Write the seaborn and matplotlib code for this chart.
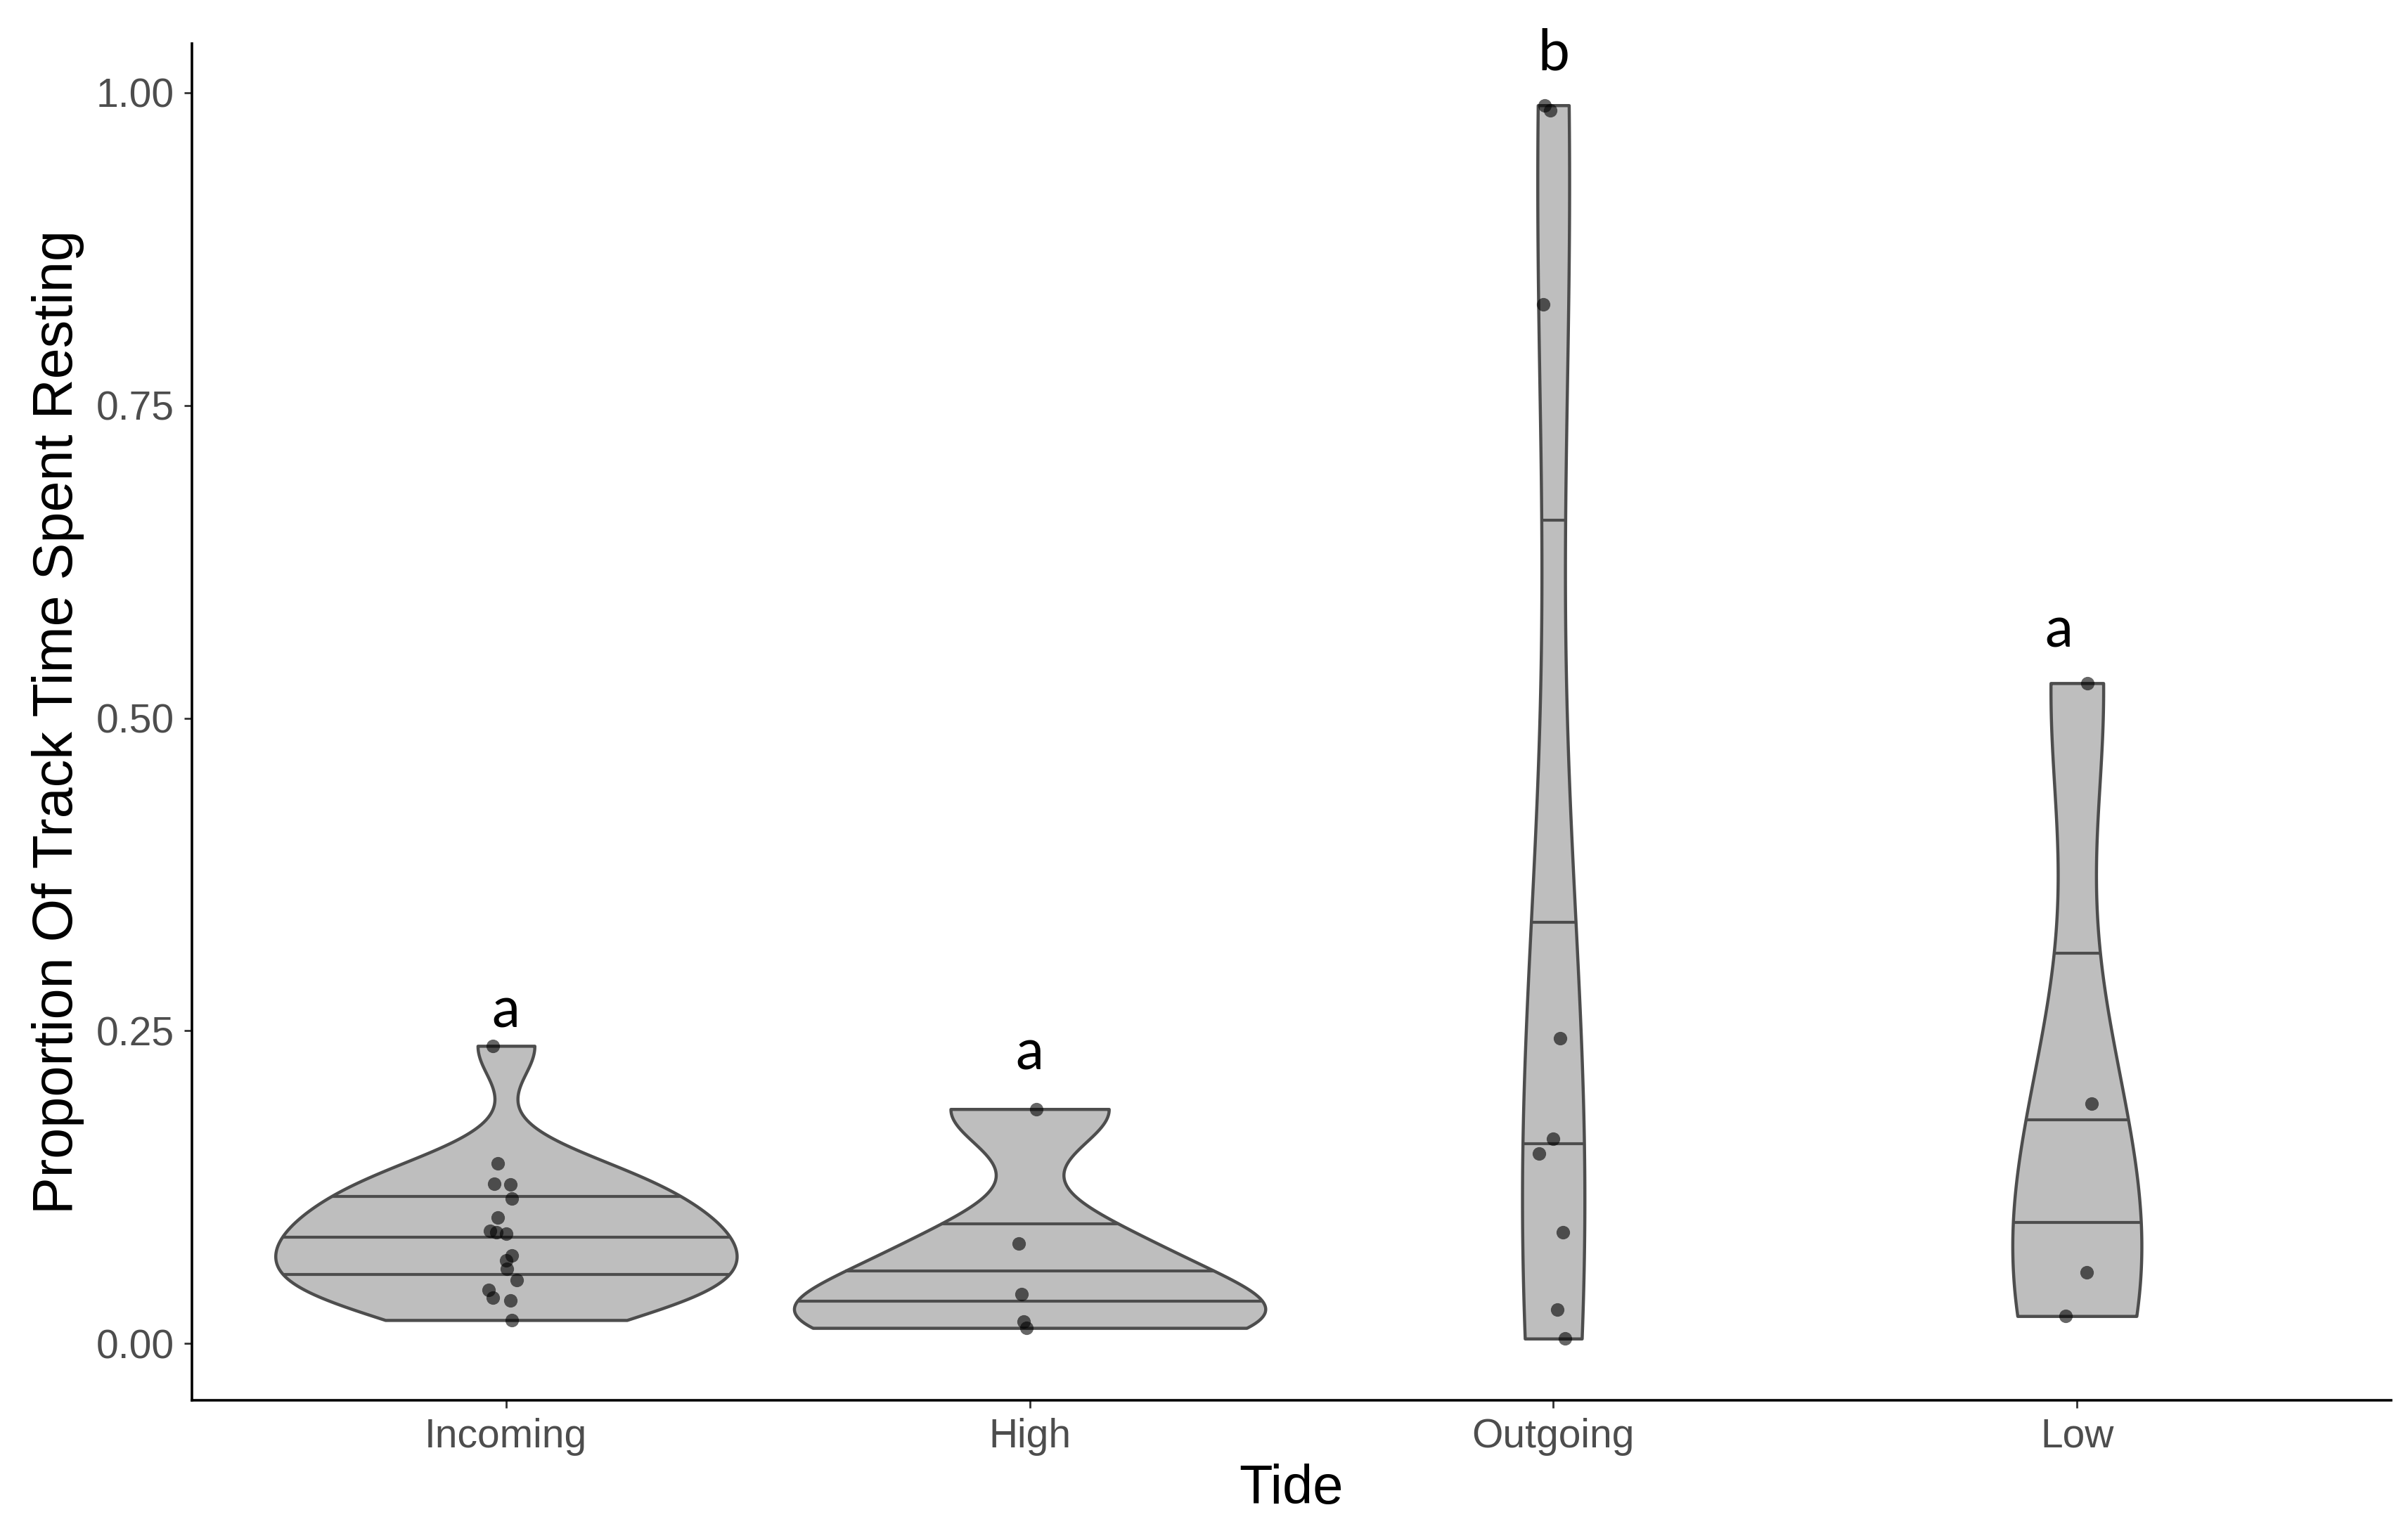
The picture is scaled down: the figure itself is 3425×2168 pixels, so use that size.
import numpy as np
import pandas as pd
import matplotlib
matplotlib.use("Agg")
import matplotlib.pyplot as plt
import seaborn as sns

# ---------------- data ----------------
tides = ["Incoming", "High", "Outgoing", "Low"]

incoming = [0.238, 0.144, 0.128, 0.127, 0.116, 0.101, 0.090, 0.089, 0.088,
            0.0705, 0.0665, 0.0596, 0.0507, 0.043, 0.0367, 0.0344, 0.0188]
incoming_jitter = [-0.025, -0.016, -0.022, 0.008, 0.011, -0.016, -0.030, -0.019, 0.000,
                   0.011, 0.000, 0.002, 0.020, -0.034, -0.025, 0.008, 0.011]

high = [0.1875, 0.080, 0.0395, 0.0175, 0.0125]
high_jitter = [0.012, -0.021, -0.015, -0.012, -0.006]

outgoing = [0.990, 0.986, 0.831, 0.244, 0.164, 0.152, 0.089, 0.027, 0.004]
outgoing_jitter = [-0.016, -0.006, -0.019, 0.013, 0.000, -0.027, 0.018, 0.008, 0.022]

low = [0.528, 0.192, 0.057, 0.022]
low_jitter = [0.020, 0.028, 0.018, -0.022]

letters = ["a", "a", "b", "a"]
letter_y = [0.266, 0.232, 1.031, 0.570]
letter_dx = [0.0, 0.0, 0.0, -0.035]

quantiles = [0.25, 0.5, 0.75]

groups = [incoming, high, outgoing, low]
jitters = [incoming_jitter, high_jitter, outgoing_jitter, low_jitter]

df = pd.DataFrame({
    "Tide": np.concatenate([[t] * len(g) for t, g in zip(tides, groups)]),
    "Proportion": np.concatenate(groups),
})
pts = pd.DataFrame({
    "x": np.concatenate([i + np.asarray(j) for i, j in enumerate(jitters)]),
    "y": np.concatenate(groups),
})

# R's bw.nrd0 bandwidth, expressed as a factor on the sd (as gaussian_kde expects)
def nrd0(kde):
    x = np.asarray(kde.dataset).ravel()
    sd = np.std(x, ddof=1)
    q75, q25 = np.percentile(x, [75, 25])
    iqr = q75 - q25
    lo = min(sd, iqr / 1.34) if iqr > 0 else sd
    bw = 0.9 * lo * len(x) ** (-0.2)
    return bw / sd

# ---------------- figure ----------------
sns.set_theme(style="ticks")
plt.rcParams["font.family"] = ["Liberation Sans", "DejaVu Sans"]

fig, ax = plt.subplots(figsize=(17.125, 10.84), dpi=200)
fig.subplots_adjust(left=0.0797, right=0.993, bottom=0.0812, top=0.9714)

edge = "#4D4D4D"
sns.violinplot(data=df, x="Tide", y="Proportion", order=tides,
               color="#BEBEBE", saturation=1, linecolor=edge, linewidth=1.6,
               inner=None, cut=0, density_norm="area", bw_method=nrd0,
               gridsize=512, width=0.9, ax=ax)

# ggplot-style quantile lines computed from each violin's density outline
for i, coll in enumerate(list(ax.collections)[:len(tides)]):
    verts = coll.get_paths()[0].vertices
    right = verts[verts[:, 0] > i + 1e-12]
    order = np.argsort(right[:, 1])
    ys = right[order, 1]
    hw = right[order, 0] - i
    ys_u = np.unique(ys)
    hw_u = np.array([hw[ys == yv].max() for yv in ys_u])
    cdf = np.cumsum(hw_u)
    cdf = cdf / cdf[-1]
    for q in quantiles:
        yq = np.interp(q, cdf, ys_u)
        w = np.interp(yq, ys_u, hw_u)
        ax.plot([i - w, i + w], [yq, yq], color=edge, lw=1.5,
                solid_capstyle="butt", zorder=3)

sns.scatterplot(data=pts, x="x", y="y", color="black", alpha=0.6, s=48,
                linewidth=0, ax=ax, legend=False, zorder=4)

for i, (lab, ly, dx) in enumerate(zip(letters, letter_y, letter_dx)):
    ax.text(i + dx, ly, lab, ha="center", va="center", fontsize=29,
            family=["Lato", "DejaVu Sans"], color="black")

# axes / scales (ggplot-like expansion)
all_vals = np.concatenate(groups)
rng = all_vals.max() - all_vals.min()
ax.set_ylim(all_vals.min() - 0.05 * rng, all_vals.max() + 0.05 * rng)
ax.set_xlim(-0.6, len(tides) - 1 + 0.6)
ax.set_yticks([0, 0.25, 0.5, 0.75, 1.0])
ax.set_yticklabels([f"{v:.2f}" for v in [0, 0.25, 0.5, 0.75, 1.0]])
ax.set_xticks(range(len(tides)))
ax.set_xticklabels(tides)

ax.set_xlabel("Tide", fontsize=28, color="black", labelpad=4)
ax.set_ylabel("Proportion Of Track Time Spent Resting", fontsize=28.5,
              color="black", labelpad=6)
ax.tick_params(axis="both", labelsize=20.5, labelcolor="#4D4D4D",
               color="#333333", length=4, width=1.0, pad=5)

sns.despine(ax=ax)
for s in ["left", "bottom"]:
    ax.spines[s].set_color("black")
    ax.spines[s].set_linewidth(1.3)

fig.savefig("out.png", dpi=200, facecolor="white")
